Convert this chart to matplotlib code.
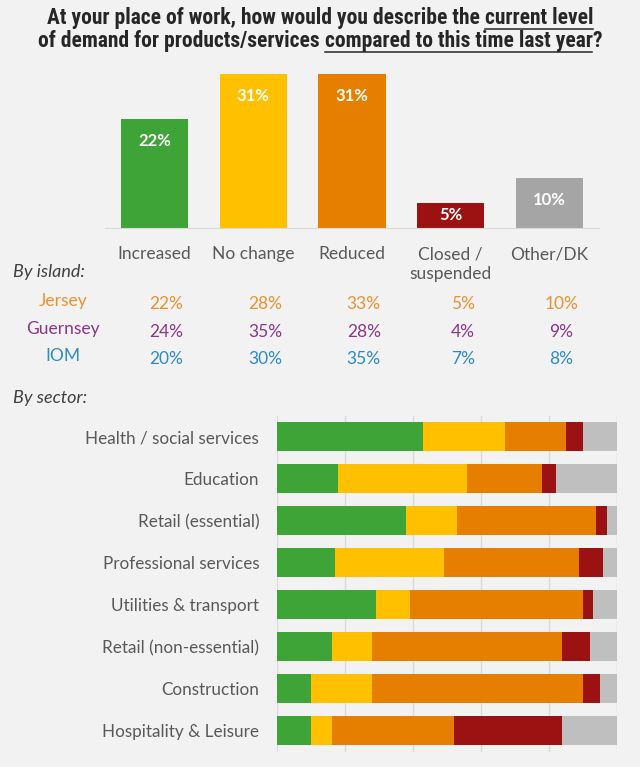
import matplotlib
matplotlib.use("Agg")
import matplotlib.pyplot as plt
import matplotlib.transforms as mtransforms
from matplotlib import font_manager
import numpy as np

# ---- data ----
categories = ["Increased", "No change", "Reduced", "Closed /\nsuspended", "Other/DK"]
overall = [22, 31, 31, 5, 10]

islands = ["Jersey", "Guernsey", "IOM"]
jersey = [22, 28, 33, 5, 10]
guernsey = [24, 35, 28, 4, 9]
iom = [20, 30, 35, 7, 8]

sectors = ["Health / social services", "Education", "Retail (essential)",
           "Professional services", "Utilities & transport",
           "Retail (non-essential)", "Construction", "Hospitality & Leisure"]
sec_increased = [43, 18, 38, 17, 29, 16, 10, 10]
sec_nochange = [24, 38, 15, 32, 10, 12, 18, 6]
sec_reduced = [18, 22, 41, 40, 51, 56, 62, 36]
sec_closed = [5, 4, 3, 7, 3, 8, 5, 32]
sec_other = [10, 18, 3, 4, 7, 8, 5, 16]

# ---- style ----
BG = "#F2F2F2"
COLORS = ["#3EA438", "#FFC000", "#E67E00", "#9C1111", "#A5A5A5"]
SEC_COLORS = ["#3EA438", "#FFC000", "#E67E00", "#9C1111", "#BFBFBF"]
ISLAND_COLORS = ["#E8922E", "#8B358B", "#2E8BC0"]
TXT = "#595959"

BODY_FONT = "Lato"
TITLE_FONT = "Liberation Sans"
for cand in ["Liberation Sans Narrow", "DejaVu Sans Condensed", "Roboto Condensed",
             "Open Sans Condensed"]:
    try:
        font_manager.findfont(font_manager.FontProperties(family=cand, weight="bold"),
                              fallback_to_default=False)
        TITLE_FONT = cand
        break
    except Exception:
        pass

plt.rcParams["font.family"] = BODY_FONT

W, H = 640, 767
fig = plt.figure(figsize=(W / 100, H / 100), dpi=100, facecolor=BG)


def fx(px):
    return px / W


def fy(py):
    return 1 - py / H


# ---- title with underlined segments ----
title_lines = [
    [("At your place of work, how would you describe the ", False), ("current level", True)],
    [("of demand for products/services ", False), ("compared to this time last year", True), ("?", False)],
]
title_y = [18, 41]
title_width = [590, 598]
renderer = fig.canvas.get_renderer()
for segs, py, tw in zip(title_lines, title_y, title_width):
    texts = []
    for s, _ in segs:
        t = fig.text(0, fy(py), s, family=TITLE_FONT, weight="bold", fontsize=15,
                     color="#262626", va="center", ha="left")
        texts.append(t)
    total = sum(t.get_window_extent(renderer).width for t in texts)
    size = min(15.5, 15 * tw / total)
    for t in texts:
        t.set_fontsize(size)
    widths = [t.get_window_extent(renderer).width for t in texts]
    x0 = W / 2 - sum(widths) / 2
    for t, w, (s, ul) in zip(texts, widths, segs):
        t.set_x(fx(x0))
        if ul:
            fig.add_artist(plt.Line2D([fx(x0), fx(x0 + w)], [fy(py + 11), fy(py + 11)],
                                      color="#262626", lw=1.1))
        x0 += w

# ---- overall bar chart ----
ax = fig.add_axes([fx(105), fy(227.7), fx(494), 167.7 / H])
ax.set_facecolor(BG)
x = np.arange(len(categories))
ax.bar(x, overall, width=0.68, color=COLORS)
px_per_unit = 167.7 / 33.8
for xi, v in zip(x, overall):
    ylab = max(v - 22 / px_per_unit, v / 2)
    ax.text(xi, ylab, f"{v}%", ha="center", va="center", color="white",
            weight="bold", fontsize=12)
ax.set_xlim(-0.5, len(categories) - 0.5)
ax.set_ylim(0, 33.8)
for s in ["top", "right", "left"]:
    ax.spines[s].set_visible(False)
ax.spines["bottom"].set_color("#D9D9D9")
ax.set_yticks([])
ax.set_xticks([])

lab_tr = mtransforms.blended_transform_factory(ax.transData, fig.transFigure)
for xi, c in zip(x, categories):
    fig.text(xi, fy(246), c, transform=lab_tr, ha="center", va="top",
             fontsize=12.5, color=TXT, linespacing=1.3)

# ---- island table ----
fig.text(fx(13), fy(272), "By island:", style="italic", fontsize=13, color="#404040",
         va="center", ha="left")
island_rows = [jersey, guernsey, iom]
row_y = [304, 332, 359]
for name, vals, col, py in zip(islands, island_rows, ISLAND_COLORS, row_y):
    fig.text(fx(63), fy(py - 3), name, ha="center", va="center", fontsize=12.5, color=col)
    for xi, v in zip(x, vals):
        fig.text(xi + 0.12, fy(py), f"{v}%", transform=lab_tr, ha="center",
                 va="center", fontsize=12.5, color=col)

# ---- sector stacked bars ----
fig.text(fx(13), fy(398), "By sector:", style="italic", fontsize=13, color="#404040",
         va="center", ha="left")
ax2 = fig.add_axes([fx(277.3), fy(752), fx(339.4), 336.5 / H])
ax2.set_facecolor(BG)
ypos = np.arange(len(sectors))
left = np.zeros(len(sectors))
for vals, col in zip([sec_increased, sec_nochange, sec_reduced, sec_closed, sec_other],
                     SEC_COLORS):
    ax2.barh(ypos, vals, left=left, height=0.69, color=col, zorder=3)
    left += np.array(vals)
ax2.set_xlim(0, 100)
ax2.set_ylim(len(sectors) - 0.5, -0.5)
ax2.set_xticks([0, 20, 40, 60, 80, 100])
ax2.set_xticklabels([])
ax2.tick_params(length=0)
ax2.grid(axis="x", color="#D9D9D9", lw=1, zorder=0)
ax2.set_yticks(ypos)
ax2.set_yticklabels(sectors, fontsize=12.3, color=TXT)
ax2.tick_params(axis="y", pad=13)
for s in ax2.spines.values():
    s.set_visible(False)

fig.savefig("out.png", dpi=100, facecolor=BG)
